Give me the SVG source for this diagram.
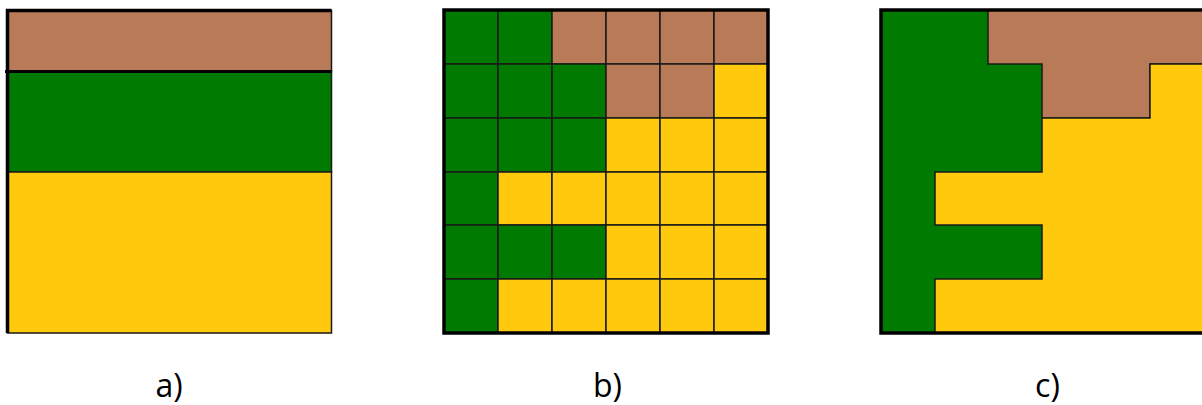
<svg xmlns="http://www.w3.org/2000/svg" width="1202" height="405" viewBox="0 0 1202 405">
<style>
.br{fill:#B97A57}
.gr{fill:#007A00}
.ye{fill:#FFC90E}
.c{stroke:#1a1a1a;stroke-width:1.5}
.ol{fill:none;stroke:#000;stroke-width:3.5}
.lb{font-family:"Open Sans","Liberation Sans",sans-serif;font-size:32px;fill:#000;text-anchor:middle}
</style>
<rect width="1202" height="405" fill="#fff"/>
<g id="panel-a">
<rect class="br c" x="7.5" y="10.5" width="324" height="61"/>
<rect class="gr c" x="7.5" y="71.5" width="324" height="100.5"/>
<rect class="ye c" x="7.5" y="172" width="324" height="161"/>
<line x1="5" y1="71.5" x2="331.5" y2="71.5" stroke="#000" stroke-width="3"/>
<polyline class="ol" points="7.5,333 7.5,10.5 331.5,10.5"/>
<text class="lb" x="169" y="397">a)</text>
</g>
<g id="panel-b">
<g class="c">
<rect class="gr" x="444" y="10" width="54" height="54"/>
<rect class="gr" x="498" y="10" width="54" height="54"/>
<rect class="br" x="552" y="10" width="54" height="54"/>
<rect class="br" x="606" y="10" width="54" height="54"/>
<rect class="br" x="660" y="10" width="54" height="54"/>
<rect class="br" x="714" y="10" width="54" height="54"/>
<rect class="gr" x="444" y="64" width="54" height="54"/>
<rect class="gr" x="498" y="64" width="54" height="54"/>
<rect class="gr" x="552" y="64" width="54" height="54"/>
<rect class="br" x="606" y="64" width="54" height="54"/>
<rect class="br" x="660" y="64" width="54" height="54"/>
<rect class="ye" x="714" y="64" width="54" height="54"/>
<rect class="gr" x="444" y="118" width="54" height="54"/>
<rect class="gr" x="498" y="118" width="54" height="54"/>
<rect class="gr" x="552" y="118" width="54" height="54"/>
<rect class="ye" x="606" y="118" width="54" height="54"/>
<rect class="ye" x="660" y="118" width="54" height="54"/>
<rect class="ye" x="714" y="118" width="54" height="54"/>
<rect class="gr" x="444" y="172" width="54" height="53"/>
<rect class="ye" x="498" y="172" width="54" height="53"/>
<rect class="ye" x="552" y="172" width="54" height="53"/>
<rect class="ye" x="606" y="172" width="54" height="53"/>
<rect class="ye" x="660" y="172" width="54" height="53"/>
<rect class="ye" x="714" y="172" width="54" height="53"/>
<rect class="gr" x="444" y="225" width="54" height="54"/>
<rect class="gr" x="498" y="225" width="54" height="54"/>
<rect class="gr" x="552" y="225" width="54" height="54"/>
<rect class="ye" x="606" y="225" width="54" height="54"/>
<rect class="ye" x="660" y="225" width="54" height="54"/>
<rect class="ye" x="714" y="225" width="54" height="54"/>
<rect class="gr" x="444" y="279" width="54" height="54"/>
<rect class="ye" x="498" y="279" width="54" height="54"/>
<rect class="ye" x="552" y="279" width="54" height="54"/>
<rect class="ye" x="606" y="279" width="54" height="54"/>
<rect class="ye" x="660" y="279" width="54" height="54"/>
<rect class="ye" x="714" y="279" width="54" height="54"/>
</g>
<rect class="ol" x="444" y="10" width="324" height="323"/>
<text class="lb" x="607.5" y="397">b)</text>
</g>
<g id="panel-c">
<rect class="gr" x="881" y="10" width="330" height="323"/>
<polygon class="br c" points="988,10 1210,10 1210,64 1150,64 1150,118 1042,118 1042,64 988,64"/>
<polygon class="ye c" points="1042,118 1150,118 1150,64 1210,64 1210,333 935,333 935,279 1042,279 1042,225 935,225 935,172 1042,172"/>
<polyline class="ol" points="1210,10 881,10 881,333 1210,333"/>
<text class="lb" x="1047.5" y="397">c)</text>
</g>
</svg>
